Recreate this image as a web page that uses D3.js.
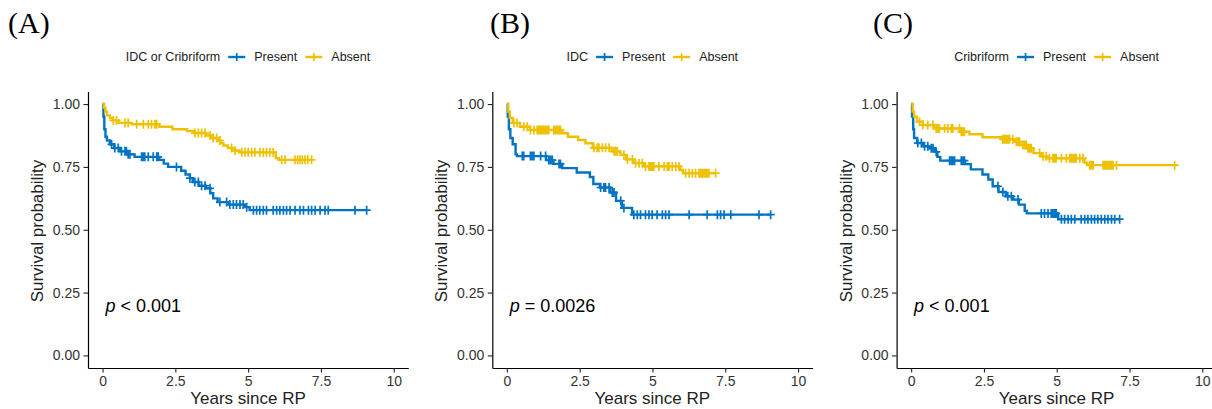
<!DOCTYPE html>
<html>
<head>
<meta charset="utf-8">
<script src="https://cdn.jsdelivr.net/npm/d3@7"></script>
<style>
  html, body { margin: 0; padding: 0; background: #fff; }
  svg { display: block; }
  text { font-family: "Liberation Sans", Arial, sans-serif; }
</style>
</head>
<body>
<svg id="chart" width="1212" height="409"></svg>
<script>
// ---------- data ----------
const panelLabels = ["(A)", "(B)", "(C)"];
const legendTitles = ["IDC or Cribriform", "IDC", "Cribriform"];
const groups = ["Present", "Absent"];
const pSigns = ["<", "=", "<"];
const pNumbers = ["0.001", "0.0026", "0.001"];
const xTicks = [0, 2.5, 5, 7.5, 10];
const xTickLabels = ["0", "2.5", "5", "7.5", "10"];
const yTicks = [0, 0.25, 0.5, 0.75, 1];
const yTickLabels = ["0.00", "0.25", "0.50", "0.75", "1.00"];
const xTitle = "Years since RP";
const yTitle = "Survival probability";

// Panel A
const aPresT = [0,0.03,0.06,0.1,0.15,0.25,0.4,0.6,0.85,1.1,1.95,2.1,2.25,2.7,2.85,3.0,3.1,3.3,3.55,3.7,3.8,3.95,4.35,4.9,5.05];
const aPresS = [1,0.95,0.9,0.87,0.855,0.84,0.825,0.812,0.8,0.79,0.778,0.763,0.75,0.735,0.72,0.705,0.69,0.675,0.665,0.645,0.625,0.61,0.6,0.59,0.578];
const aPresC = [0.31,0.42,0.54,0.65,0.77,0.82,0.88,0.94,1.34,1.40,1.45,1.57,1.74,1.86,1.91,2.54,3.0,3.17,3.29,3.40,3.52,3.69,4.03,4.26,4.37,4.49,4.60,4.72,4.83,4.95,5.18,5.29,5.40,5.52,5.63,5.86,5.98,6.09,6.21,6.32,6.44,6.61,6.78,6.90,7.07,7.18,7.30,7.47,7.64,7.75,8.67,9.07];
const aAbsT = [0,0.05,0.1,0.15,0.25,0.35,0.55,1.0,1.95,2.4,2.9,3.15,3.55,3.75,3.95,4.05,4.15,4.3,4.45,4.7,5.95,6.05];
const aAbsS = [1,0.985,0.97,0.955,0.945,0.935,0.925,0.92,0.91,0.9,0.893,0.885,0.875,0.865,0.855,0.845,0.835,0.825,0.815,0.808,0.785,0.778];
const aAbsC = [0.37,0.48,0.77,0.88,1.17,1.40,1.57,1.68,1.80,1.86,3.17,3.29,3.40,3.52,3.69,3.80,3.92,4.03,4.43,4.55,4.78,4.89,5.0,5.12,5.23,5.40,5.52,5.63,5.75,5.86,6.15,6.27,6.61,6.70,6.78,6.86,6.95,7.05,7.18];

// Panel B
const bPresT = [0,0.03,0.07,0.12,0.2,0.3,0.35,1.35,1.6,1.9,2.4,2.85,2.97,3.2,3.55,3.75,3.95,4.3];
const bPresS = [1,0.95,0.9,0.865,0.84,0.8,0.793,0.777,0.762,0.745,0.728,0.71,0.682,0.668,0.648,0.615,0.587,0.56];
const bPresC = [0.53,0.58,0.81,0.87,0.93,1.16,1.33,1.44,1.50,1.56,1.79,1.84,3.22,3.33,3.39,3.51,3.62,3.68,3.91,4.02,4.36,4.48,4.59,4.76,4.88,4.99,5.16,5.34,5.45,5.57,6.26,6.88,7.23,7.34,7.46,7.69,8.66,9.06];
const bAbsT = [0,0.05,0.1,0.2,0.45,0.8,1.9,2.1,2.45,2.7,2.95,3.6,3.9,4.1,4.35,4.7,5.95,6.05];
const bAbsS = [1,0.97,0.945,0.925,0.91,0.897,0.884,0.87,0.857,0.844,0.826,0.812,0.798,0.78,0.765,0.752,0.738,0.725];
const bAbsC = [0.24,0.35,0.58,0.70,0.81,0.93,1.04,1.10,1.16,1.21,1.27,1.33,1.39,1.44,1.61,1.67,1.73,1.79,1.84,2.99,3.10,3.16,3.28,3.39,3.51,3.68,3.73,3.79,4.02,4.14,4.31,4.42,4.54,4.65,4.76,4.88,4.94,4.99,5.05,5.22,5.40,5.51,5.57,5.68,5.80,5.91,6.14,6.26,6.37,6.48,6.60,6.65,6.71,6.77,6.83,6.88,6.94,7.17];

// Panel C
const cPresT = [0,0.03,0.07,0.1,0.2,0.4,0.6,0.82,0.9,1.0,1.85,2.05,2.45,2.65,2.8,3.0,3.25,3.5,3.7,3.9,3.97,5.05];
const cPresS = [1,0.95,0.9,0.865,0.845,0.832,0.824,0.81,0.79,0.775,0.761,0.74,0.72,0.7,0.673,0.65,0.633,0.62,0.6,0.575,0.565,0.542];
const cPresC = [0.23,0.35,0.46,0.57,0.69,0.75,0.86,1.32,1.38,1.43,1.49,1.72,1.78,1.83,2.98,3.15,3.32,3.44,3.67,4.47,4.58,4.70,4.81,4.87,4.93,4.98,5.16,5.27,5.39,5.50,5.62,5.84,5.96,6.07,6.19,6.30,6.41,6.53,6.65,6.76,6.88,6.99,7.16];
const cAbsT = [0,0.05,0.1,0.2,0.4,0.8,1.72,2.0,2.45,3.1,3.55,3.75,4.0,4.2,4.45,4.65,5.95,6.05];
const cAbsS = [1,0.97,0.95,0.93,0.917,0.903,0.89,0.88,0.868,0.86,0.85,0.837,0.824,0.805,0.792,0.784,0.767,0.757];
const cAbsC = [0.29,0.40,0.57,0.75,0.86,0.92,0.97,1.15,1.26,1.38,1.43,1.66,1.72,1.78,1.83,3.15,3.21,3.27,3.32,3.38,3.49,3.61,3.67,3.72,3.84,3.90,3.95,4.01,4.07,4.12,4.41,4.53,4.64,4.75,4.87,4.93,4.98,5.16,5.33,5.44,5.50,5.56,5.62,5.67,5.79,5.90,6.13,6.19,6.25,6.59,6.65,6.70,6.76,6.82,6.88,6.93,7.05,9.05];

// ---------- layout / style ----------
const colors = ["#0073C2", "#EFC000"];
const panelWidth = 404.3;
const panelLabelX = [8, 490, 873];
const series = [
  [[aPresT, aPresS, aPresC], [aAbsT, aAbsS, aAbsC]],
  [[bPresT, bPresS, bPresC], [bAbsT, bAbsS, bAbsC]],
  [[cPresT, cPresS, cPresC], [cAbsT, cAbsS, cAbsC]]
];

const svg = d3.select("#chart");

function survAt(times, survs, t) {
  let s = survs[0];
  for (let i = 0; i < times.length; i++) if (times[i] <= t) s = survs[i];
  return s;
}

panelLabels.forEach((lab, p) => {
  const ox = p * panelWidth;
  const g = svg.append("g");
  const x = d3.scaleLinear().domain([-0.5, 10.5]).range([ox + 88, ox + 408.3]);
  const y = d3.scaleLinear().domain([-0.05, 1.05]).range([368, 91.5]);

  // panel label
  g.append("text").attr("x", panelLabelX[p]).attr("y", 33)
    .style("font-family", "'Liberation Serif', 'Times New Roman', serif")
    .style("font-size", "30px").attr("fill", "#000").text(lab);

  // axes
  const xa = g.append("g").attr("transform", "translate(0,368)")
    .call(d3.axisBottom(x).tickValues(xTicks).tickFormat((d, i) => xTickLabels[i])
      .tickSize(4.5).tickSizeOuter(0).tickPadding(4));
  const ya = g.append("g").attr("transform", `translate(${ox + 88},0)`)
    .call(d3.axisLeft(y).tickValues(yTicks).tickFormat((d, i) => yTickLabels[i])
      .tickSize(4.5).tickSizeOuter(0).tickPadding(3.5));
  [xa, ya].forEach(a => {
    a.select(".domain").attr("stroke", "#000").attr("stroke-width", 1.2);
    a.selectAll(".tick line").attr("stroke", "#222").attr("stroke-width", 1.1);
    a.selectAll(".tick text").attr("fill", "#333").style("font-size", "14px")
      .style("font-family", "'Liberation Sans', Arial, sans-serif");
  });

  // axis titles
  g.append("text").attr("x", ox + 248).attr("y", 403.5).attr("text-anchor", "middle")
    .style("font-size", "17px").attr("fill", "#222").text(xTitle);
  g.append("text").attr("transform", `translate(${ox + 43},231) rotate(-90)`)
    .attr("text-anchor", "middle").style("font-size", "17px").attr("fill", "#222").text(yTitle);

  // curves
  const line = d3.line().curve(d3.curveStepAfter).x(d => x(d[0])).y(d => y(d[1]));
  series[p].forEach(([T, S, C], gi) => {
    const end = d3.max(C.concat(T));
    const pts = T.map((t, i) => [t, S[i]]);
    pts.push([end, S[S.length - 1]]);
    g.append("path").datum(pts).attr("d", line).attr("fill", "none")
      .attr("stroke", colors[gi]).attr("stroke-width", 2.4);
    g.append("path")
      .attr("d", C.map(t => {
        const cx = x(t), cy = y(survAt(T, S, t));
        return `M${cx - 4},${cy}h8M${cx},${cy - 4.5}v9`;
      }).join(""))
      .attr("fill", "none").attr("stroke", colors[gi]).attr("stroke-width", 1.7);
  });

  // p-value
  const pt = g.append("text").attr("x", x(0.1)).attr("y", 311.5).style("font-size", "18px").attr("fill", "#000");
  pt.append("tspan").style("font-style", "italic").text("p");
  pt.append("tspan").text(` ${pSigns[p]} ${pNumbers[p]}`);

  // legend
  const lg = g.append("g");
  const ly = 57;
  const items = [];
  const title = lg.append("text").attr("y", ly + 4.3).style("font-size", "12.5px").attr("fill", "#222").text(legendTitles[p]);
  let cur = 0;
  items.push([title, cur]); cur += title.node().getComputedTextLength() + 8;
  groups.forEach((gname, gi) => {
    const k = lg.append("g");
    k.append("line").attr("x1", 0).attr("x2", 17).attr("y1", ly).attr("y2", ly)
      .attr("stroke", colors[gi]).attr("stroke-width", 2.4);
    k.append("line").attr("x1", 8.5).attr("x2", 8.5).attr("y1", ly - 4).attr("y2", ly + 4)
      .attr("stroke", colors[gi]).attr("stroke-width", 1.7);
    items.push([k, cur]); cur += 17 + 9;
    const t = lg.append("text").attr("y", ly + 4.3).style("font-size", "12.5px").attr("fill", "#222").text(gname);
    items.push([t, cur]); cur += t.node().getComputedTextLength() + (gi === 0 ? 8 : 0);
  });
  const start = ox + 248 - cur / 2;
  items.forEach(([el, off]) => {
    if (el.node().tagName === "text") el.attr("x", start + off);
    else el.attr("transform", `translate(${start + off},0)`);
  });
});
</script>
</body>
</html>
